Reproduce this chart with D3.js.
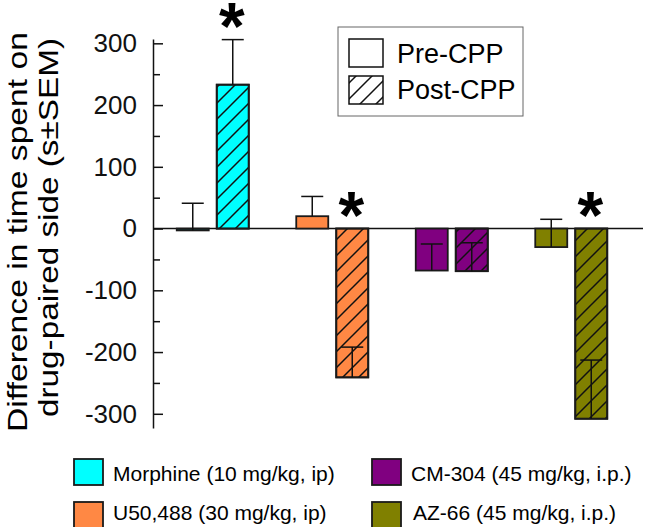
<!DOCTYPE html>
<html>
<head>
<meta charset="utf-8">
<script src="https://cdn.jsdelivr.net/npm/d3@7"></script>
<style>
  html, body { margin: 0; padding: 0; background: #fff; }
  svg { display: block; font-family: "Liberation Sans", Arial, sans-serif; }
</style>
</head>
<body>
<svg id="chart" width="645" height="527"></svg>
<script>
// ---- Data ----
const categories = ["Morphine (10 mg/kg, ip)", "U50,488 (30 mg/kg, ip)", "CM-304 (45 mg/kg, i.p.)", "AZ-66 (45 mg/kg, i.p.)"];
const colors = ["#00ffff", "#ff8844", "#800080", "#808000"];
const preValues = [-3, 20, -68, -30];
const preSEM = [44, 32, 43, 45];
const postValues = [233, -241, -69, -308];
const postSEM = [73, 49, 46, 95];
const postSignificant = [true, true, false, true];
const phases = ["Pre-CPP", "Post-CPP"];
const majorTicks = [300, 200, 100, 0, -100, -200, -300];
const minorTicks = [250, 150, 50, -50, -150, -250];
const yLabelLines = ["Difference in time spent on", "drug-paired side (s\u00b1SEM)"];

// ---- Setup ----
const svg = d3.select("#chart");
const defs = svg.append("defs");
const pat = defs.append("pattern")
  .attr("id", "hatch").attr("patternUnits", "userSpaceOnUse")
  .attr("width", 16).attr("height", 16);
pat.append("path")
  .attr("d", "M0,16 L16,0 M-4,4 L4,-4 M12,20 L20,12")
  .attr("stroke", "#111").attr("stroke-width", 1.5);

const axisX = 153;
const y = d3.scaleLinear().domain([-323, 307]).range([428, 39]);
const x0 = d3.scaleBand().domain(categories).range([153, 631]);
const x1 = d3.scaleBand().domain(phases)
  .range([x0.bandwidth() / 2 - 36, x0.bandwidth() / 2 + 36]).paddingInner(0.2);

// ---- Bars ----
const bars = [];
categories.forEach((c, i) => {
  bars.push({cat: c, phase: "Pre-CPP", v: preValues[i], sem: preSEM[i], color: colors[i], sig: false});
  bars.push({cat: c, phase: "Post-CPP", v: postValues[i], sem: postSEM[i], color: colors[i], sig: postSignificant[i]});
});

const g = svg.append("g");
// zero line
g.append("line")
  .attr("x1", axisX).attr("x2", 643)
  .attr("y1", y(0)).attr("y2", y(0))
  .attr("stroke", "#111").attr("stroke-width", 1.5);

const bg = g.selectAll("g.bar").data(bars).enter().append("g").attr("class", "bar");
bg.append("rect")
  .attr("x", d => x0(d.cat) + x1(d.phase))
  .attr("width", x1.bandwidth())
  .attr("y", d => y(Math.max(0, d.v)))
  .attr("height", d => Math.abs(y(d.v) - y(0)))
  .attr("fill", d => d.color)
  .attr("stroke", "#1a1a1a").attr("stroke-width", 1.8);
bg.filter(d => d.phase === "Post-CPP").append("rect")
  .attr("x", d => x0(d.cat) + x1(d.phase))
  .attr("width", x1.bandwidth())
  .attr("y", d => y(Math.max(0, d.v)))
  .attr("height", d => Math.abs(y(d.v) - y(0)))
  .attr("fill", "url(#hatch)")
  .attr("stroke", "#1a1a1a").attr("stroke-width", 1.8);

// error bars (drawn upward)
const cx = d => x0(d.cat) + x1(d.phase) + x1.bandwidth() / 2;
bg.append("line")
  .attr("x1", cx).attr("x2", cx)
  .attr("y1", d => y(d.v)).attr("y2", d => y(d.v + d.sem))
  .attr("stroke", "#111").attr("stroke-width", 1.5);
bg.append("line")
  .attr("x1", d => cx(d) - 11).attr("x2", d => cx(d) + 11)
  .attr("y1", d => y(d.v + d.sem)).attr("y2", d => y(d.v + d.sem))
  .attr("stroke", "#111").attr("stroke-width", 1.5);

// asterisks
const astSize = 66;
bg.filter(d => d.sig).append("text")
  .attr("x", d => cx(d) - 1)
  .attr("y", d => y(Math.max(0, d.v + d.sem)) - 27 + astSize * 0.55)
  .attr("text-anchor", "middle")
  .attr("font-size", astSize).attr("font-weight", "bold")
  .attr("fill", "#000")
  .text("*");

// ---- Axis ----
const axisG = svg.append("g").attr("transform", `translate(${axisX},0)`);
axisG.call(d3.axisLeft(y).tickValues(majorTicks).tickSize(-10).tickSizeOuter(0).tickPadding(16)
  .tickFormat(d3.format("d")));
axisG.select(".domain").attr("stroke", "#111").attr("stroke-width", 1.5);
axisG.selectAll(".tick line").attr("stroke", "#111").attr("stroke-width", 1.5);
axisG.selectAll(".tick text").attr("font-size", 26).attr("fill", "#111")
  .attr("font-family", "'Liberation Sans', Arial, sans-serif").text(d => d < 0 ? "-" + Math.abs(d) : d);
const minorG = svg.append("g").attr("transform", `translate(${axisX},0)`);
minorG.call(d3.axisLeft(y).tickValues(minorTicks).tickSize(-7).tickSizeOuter(0).tickFormat(""));
minorG.select(".domain").remove();
minorG.selectAll(".tick line").attr("stroke", "#111").attr("stroke-width", 1.5);

// Y label
const yl = [{t: yLabelLines[0], x: 27, cy: 232, len: 400}, {t: yLabelLines[1], x: 58, cy: 227.5, len: 379}];
svg.selectAll("text.ylab").data(yl).enter().append("text")
  .attr("class", "ylab")
  .attr("transform", d => `translate(${d.x},${d.cy}) rotate(-90)`)
  .attr("text-anchor", "middle")
  .attr("font-size", 28)
  .attr("textLength", d => d.len).attr("lengthAdjust", "spacingAndGlyphs")
  .attr("fill", "#000")
  .text(d => d.t);

// ---- Top legend ----
const lg = svg.append("g");
lg.append("rect").attr("x", 338).attr("y", 27).attr("width", 185).attr("height", 89)
  .attr("fill", "#fff").attr("stroke", "#666").attr("stroke-width", 1);
phases.forEach((p, i) => {
  lg.append("rect").attr("x", 349).attr("y", 39 + i * 37).attr("width", 34).attr("height", 28)
    .attr("fill", i === 0 ? "#fff" : "url(#hatch)").attr("stroke", "#111").attr("stroke-width", 1.5);
  lg.append("text").attr("x", 397).attr("y", 63 + i * 36).attr("font-size", 27).attr("fill", "#000").text(p);
});

// ---- Bottom legend ----
const bl = svg.append("g");
categories.forEach((c, i) => {
  const col = Math.floor(i / 2), row = i % 2;
  const sx = col === 0 ? 74 : 372;
  const sy = 459 + row * 43;
  bl.append("rect").attr("x", sx).attr("y", sy).attr("width", 29).attr("height", 26)
    .attr("fill", colors[i]).attr("stroke", "#1a1a1a").attr("stroke-width", 1.8);
  bl.append("text").attr("x", sx + 39 + (col === 1 && row === 1 ? 2 : 0)).attr("y", 481 + row * 39)
    .attr("font-size", 21).attr("fill", "#000").text(c);
});
</script>
</body>
</html>
